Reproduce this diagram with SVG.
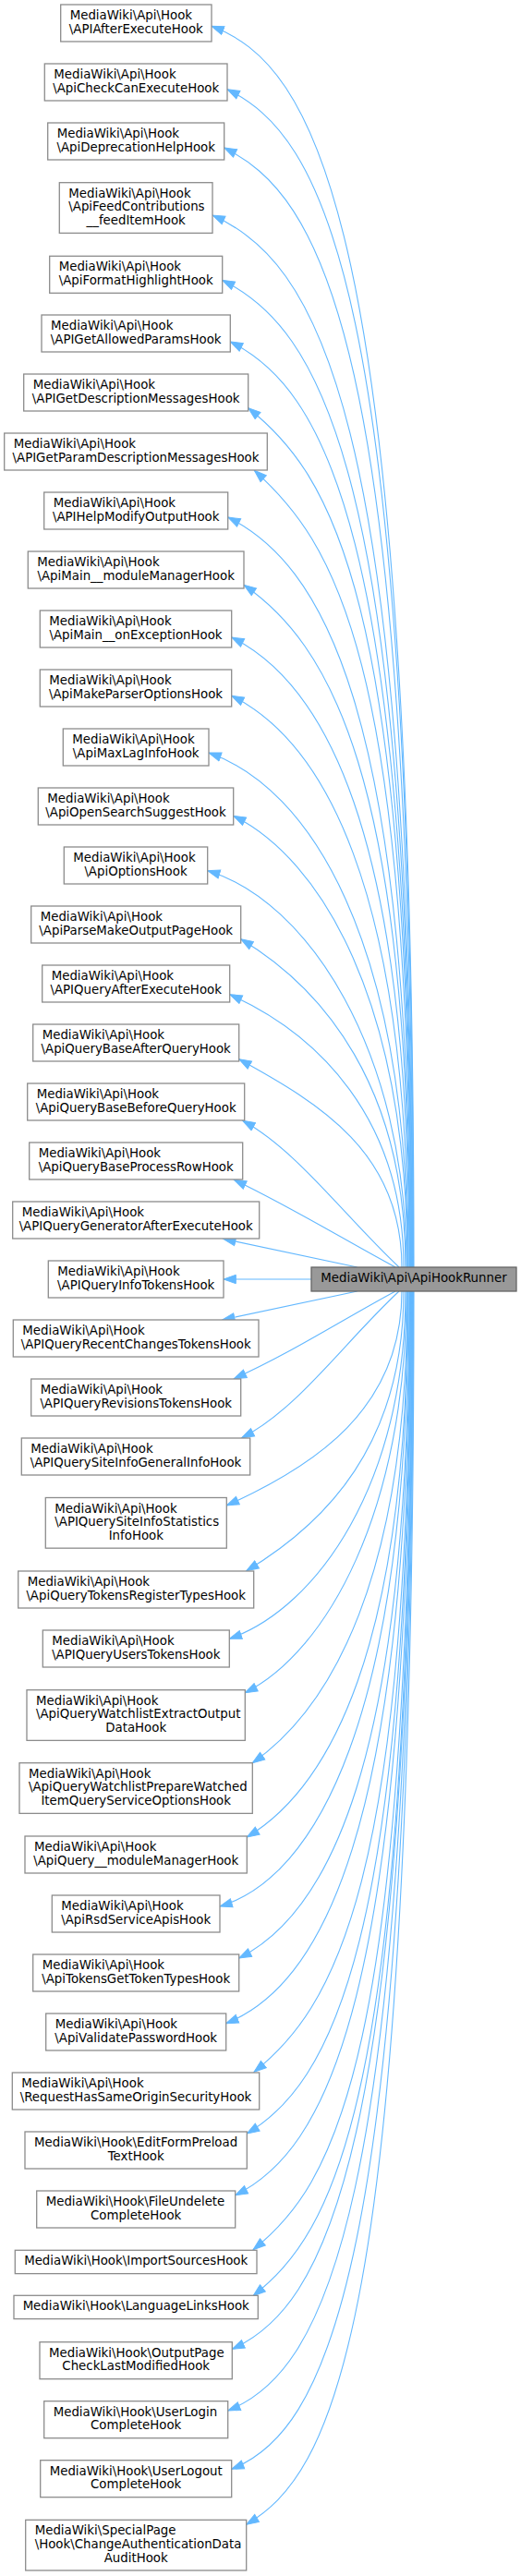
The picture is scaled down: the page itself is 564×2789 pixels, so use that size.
<svg xmlns="http://www.w3.org/2000/svg" width="564" height="2789" viewBox="0 0 564 2789">
<style>
rect{fill:#fff;stroke:#8c8c8c;stroke-width:1.3}
#center rect{fill:#999;stroke:#666}
text{font-family:"DejaVu Sans",sans-serif;font-size:13.33px;fill:#000}
.c{text-anchor:middle}
#edges path{fill:none;stroke:#63b8ff;stroke-width:1.1;marker-start:url(#a)}
</style>
<defs>
<marker id="a" markerUnits="userSpaceOnUse" markerWidth="16" markerHeight="12" viewBox="-14 -6 16 12" refX="0" refY="0" orient="auto-start-reverse"><path d="M0,0 L-13.3,-4.67 L-13.3,4.67 Z" fill="#63b8ff" stroke="#63b8ff" stroke-width="1"/></marker>
</defs>
<rect width="564" height="2789" style="fill:#fff;stroke:none"/>
<g id="edges">
<path d="M229,28.3 C338.5,69.9 448,228.3 448,1372"/>
<path d="M246,96.7 C346.75,147.1 447.5,296.7 447.5,1372"/>
<path d="M242.7,160 C344.9,211.1 447,360 447,1372"/>
<path d="M230,233 C338.3,281.7 446.5,433 446.5,1372"/>
<path d="M240.7,303.3 C343.4,354.6 446,503.3 446,1372"/>
<path d="M249.3,370 C347.4,419.1 445.5,570 445.5,1372"/>
<path d="M268.7,441.7 C356.9,512.3 445,641.7 445,1372"/>
<path d="M275.3,509.3 C359.9,585.4 444.5,709.3 444.5,1372"/>
<path d="M246.7,560 C345.4,609.4 444,760 444,1372"/>
<path d="M264,633.3 C353.8,696.2 443.5,833.3 443.5,1372"/>
<path d="M250.7,690 C346.9,738.1 443,890 443,1372"/>
<path d="M250.7,753.3 C346.4,801.2 442,953.3 442,1372"/>
<path d="M226,815 C333.8,852.7 441.5,1015 441.5,1372"/>
<path d="M252.7,883.3 C346.9,930.4 441,1083.3 441,1372"/>
<path d="M224.7,942.7 C332.4,975 440,1135.9 440,1372"/>
<path d="M260.7,1016.7 C349.9,1070.2 439,1176.6 439,1372"/>
<path d="M248.7,1076.7 C342.9,1119.1 437,1209.6 437,1372"/>
<path d="M258.7,1146.7 C346.9,1195.2 435,1248.1 435,1372"/>
<path d="M262.7,1213.3 C322,1245.9 372.7,1316.5 432,1372"/>
<path d="M253.3,1277.3 C314.4,1306.6 366.9,1338.9 428,1372"/>
<path d="M241.7,1341.3 L386.7,1372"/>
<path d="M242,1385 L337,1385"/>
<path d="M240.7,1429 L386.7,1398"/>
<path d="M253.3,1492.7 C314.4,1465.2 366.9,1431.1 428,1398"/>
<path d="M261.7,1556.7 C321.3,1526.9 372.4,1453.5 432,1398"/>
<path d="M245.3,1630 C340.2,1587.3 435,1525.6 435,1398"/>
<path d="M266.7,1700.7 C351.9,1649.6 437,1564.5 437,1398"/>
<path d="M248.3,1774.3 C343.7,1740.9 439,1605 439,1398"/>
<path d="M265.3,1832.7 C352.7,1789 440,1637.1 440,1398"/>
<path d="M273.3,1908.7 C357.2,1850 441,1708.7 441,1398"/>
<path d="M267.3,1989 C354.4,1936.7 441.5,1789 441.5,1398"/>
<path d="M238,2064 C340,2033.4 442,1864 442,1398"/>
<path d="M258.7,2120 C350.9,2073.9 443,1920 443,1398"/>
<path d="M244.7,2190.7 C344.1,2150.9 443.5,1990.7 443.5,1398"/>
<path d="M275,2243.3 C359.5,2175.7 444,2043.3 444,1398"/>
<path d="M267.3,2310 C355.9,2256.8 444.5,2110 444.5,1398"/>
<path d="M254.7,2376.7 C349.9,2329.1 445,2176.7 445,1398"/>
<path d="M274,2435.7 C359.8,2367.1 445.5,2235.7 445.5,1398"/>
<path d="M274,2485.7 C360,2416.9 446,2285.7 446,1398"/>
<path d="M251.3,2543.3 C348.9,2499.4 446.5,2343.3 446.5,1398"/>
<path d="M246.7,2610 C346.9,2570 447,2410 447,1398"/>
<path d="M250.7,2673.3 C349.1,2633.9 447.5,2473.3 447.5,1398"/>
<path d="M266.7,2733.3 C357.4,2678.9 448,2533.3 448,1398"/>
</g>
<g id="center"><rect x="337" y="1372" width="222" height="26"/><text class="c" x="448" y="1388">MediaWiki\Api\ApiHookRunner</text></g>
<g id="n1"><rect x="65.7" y="5" width="163.3" height="40"/><text x="75.7" y="21">MediaWiki\Api\Hook</text><text class="c" x="147.3" y="35.7">\APIAfterExecuteHook</text></g>
<g id="n2"><rect x="48.3" y="69" width="197.7" height="40"/><text x="58.3" y="85">MediaWiki\Api\Hook</text><text class="c" x="147.2" y="99.7">\ApiCheckCanExecuteHook</text></g>
<g id="n3"><rect x="51.7" y="133" width="191" height="40"/><text x="61.7" y="149">MediaWiki\Api\Hook</text><text class="c" x="147.2" y="163.7">\ApiDeprecationHelpHook</text></g>
<g id="n4"><rect x="64.3" y="197.7" width="165.7" height="54.67"/><text x="74.3" y="213.7">MediaWiki\Api\Hook</text><text x="74.3" y="228.4">\ApiFeedContributions</text><text class="c" x="147.2" y="243">__feedItemHook</text></g>
<g id="n5"><rect x="53.7" y="277.3" width="187" height="40"/><text x="63.7" y="293.3">MediaWiki\Api\Hook</text><text class="c" x="147.2" y="308">\ApiFormatHighlightHook</text></g>
<g id="n6"><rect x="45" y="341" width="204.3" height="40"/><text x="55" y="357">MediaWiki\Api\Hook</text><text class="c" x="147.2" y="371.7">\APIGetAllowedParamsHook</text></g>
<g id="n7"><rect x="25.7" y="405" width="243" height="40"/><text x="35.7" y="421">MediaWiki\Api\Hook</text><text class="c" x="147.2" y="435.7">\APIGetDescriptionMessagesHook</text></g>
<g id="n8"><rect x="4.7" y="469" width="284.6" height="40"/><text x="14.7" y="485">MediaWiki\Api\Hook</text><text class="c" x="147" y="499.7">\APIGetParamDescriptionMessagesHook</text></g>
<g id="n9"><rect x="47.7" y="533" width="199" height="40"/><text x="57.7" y="549">MediaWiki\Api\Hook</text><text class="c" x="147.2" y="563.7">\APIHelpModifyOutputHook</text></g>
<g id="n10"><rect x="30.3" y="597" width="233.7" height="40"/><text x="40.3" y="613">MediaWiki\Api\Hook</text><text class="c" x="147.2" y="627.7">\ApiMain__moduleManagerHook</text></g>
<g id="n11"><rect x="43.3" y="661" width="207.4" height="40"/><text x="53.3" y="677">MediaWiki\Api\Hook</text><text class="c" x="147" y="691.7">\ApiMain__onExceptionHook</text></g>
<g id="n12"><rect x="43.3" y="725" width="207.4" height="40"/><text x="53.3" y="741">MediaWiki\Api\Hook</text><text class="c" x="147" y="755.7">\ApiMakeParserOptionsHook</text></g>
<g id="n13"><rect x="68.3" y="789" width="157.7" height="40"/><text x="78.3" y="805">MediaWiki\Api\Hook</text><text class="c" x="147.2" y="819.7">\ApiMaxLagInfoHook</text></g>
<g id="n14"><rect x="41.3" y="853" width="211.4" height="40"/><text x="51.3" y="869">MediaWiki\Api\Hook</text><text class="c" x="147" y="883.7">\ApiOpenSearchSuggestHook</text></g>
<g id="n15"><rect x="69.3" y="917" width="155.4" height="40"/><text x="79.3" y="933">MediaWiki\Api\Hook</text><text class="c" x="147" y="947.7">\ApiOptionsHook</text></g>
<g id="n16"><rect x="33.7" y="981" width="227" height="40"/><text x="43.7" y="997">MediaWiki\Api\Hook</text><text class="c" x="147.2" y="1011.7">\ApiParseMakeOutputPageHook</text></g>
<g id="n17"><rect x="45.7" y="1045" width="203" height="40"/><text x="55.7" y="1061">MediaWiki\Api\Hook</text><text class="c" x="147.2" y="1075.7">\APIQueryAfterExecuteHook</text></g>
<g id="n18"><rect x="35.7" y="1109" width="223" height="40"/><text x="45.7" y="1125">MediaWiki\Api\Hook</text><text class="c" x="147.2" y="1139.7">\ApiQueryBaseAfterQueryHook</text></g>
<g id="n19"><rect x="29.7" y="1173" width="235" height="40"/><text x="39.7" y="1189">MediaWiki\Api\Hook</text><text class="c" x="147.2" y="1203.7">\ApiQueryBaseBeforeQueryHook</text></g>
<g id="n20"><rect x="31.7" y="1237" width="231" height="40"/><text x="41.7" y="1253">MediaWiki\Api\Hook</text><text class="c" x="147.2" y="1267.7">\ApiQueryBaseProcessRowHook</text></g>
<g id="n21"><rect x="13.7" y="1301" width="267" height="40"/><text x="23.7" y="1317">MediaWiki\Api\Hook</text><text class="c" x="147.2" y="1331.7">\APIQueryGeneratorAfterExecuteHook</text></g>
<g id="n22"><rect x="52.3" y="1365" width="189.7" height="40"/><text x="62.3" y="1381">MediaWiki\Api\Hook</text><text class="c" x="147.2" y="1395.7">\APIQueryInfoTokensHook</text></g>
<g id="n23"><rect x="14.3" y="1429" width="265.7" height="40"/><text x="24.3" y="1445">MediaWiki\Api\Hook</text><text class="c" x="147.2" y="1459.7">\APIQueryRecentChangesTokensHook</text></g>
<g id="n24"><rect x="33.7" y="1493" width="227" height="40"/><text x="43.7" y="1509">MediaWiki\Api\Hook</text><text class="c" x="147.2" y="1523.7">\APIQueryRevisionsTokensHook</text></g>
<g id="n25"><rect x="23.3" y="1557" width="247.4" height="40"/><text x="33.3" y="1573">MediaWiki\Api\Hook</text><text class="c" x="147" y="1587.7">\APIQuerySiteInfoGeneralInfoHook</text></g>
<g id="n26"><rect x="49.3" y="1621.5" width="196" height="54.67"/><text x="59.3" y="1637.5">MediaWiki\Api\Hook</text><text x="59.3" y="1652.2">\APIQuerySiteInfoStatistics</text><text class="c" x="147.3" y="1666.8">InfoHook</text></g>
<g id="n27"><rect x="19.7" y="1701" width="255" height="40"/><text x="29.7" y="1717">MediaWiki\Api\Hook</text><text class="c" x="147.2" y="1731.7">\ApiQueryTokensRegisterTypesHook</text></g>
<g id="n28"><rect x="46.3" y="1765" width="202" height="40"/><text x="56.3" y="1781">MediaWiki\Api\Hook</text><text class="c" x="147.3" y="1795.7">\APIQueryUsersTokensHook</text></g>
<g id="n29"><rect x="29" y="1829.7" width="236.3" height="54.67"/><text x="39" y="1845.7">MediaWiki\Api\Hook</text><text x="39" y="1860.4">\ApiQueryWatchlistExtractOutput</text><text class="c" x="147.2" y="1875">DataHook</text></g>
<g id="n30"><rect x="21" y="1908.7" width="252.3" height="54.67"/><text x="31" y="1924.7">MediaWiki\Api\Hook</text><text x="31" y="1939.4">\ApiQueryWatchlistPrepareWatched</text><text class="c" x="147.2" y="1954">ItemQueryServiceOptionsHook</text></g>
<g id="n31"><rect x="27" y="1988" width="240.3" height="40"/><text x="37" y="2004">MediaWiki\Api\Hook</text><text class="c" x="147.2" y="2018.7">\ApiQuery__moduleManagerHook</text></g>
<g id="n32"><rect x="56.3" y="2052" width="181.7" height="40"/><text x="66.3" y="2068">MediaWiki\Api\Hook</text><text class="c" x="147.2" y="2082.7">\ApiRsdServiceApisHook</text></g>
<g id="n33"><rect x="35.7" y="2116" width="223" height="40"/><text x="45.7" y="2132">MediaWiki\Api\Hook</text><text class="c" x="147.2" y="2146.7">\ApiTokensGetTokenTypesHook</text></g>
<g id="n34"><rect x="49.7" y="2180" width="195" height="40"/><text x="59.7" y="2196">MediaWiki\Api\Hook</text><text class="c" x="147.2" y="2210.7">\ApiValidatePasswordHook</text></g>
<g id="n35"><rect x="13.3" y="2244" width="267.4" height="40"/><text x="23.3" y="2260">MediaWiki\Api\Hook</text><text class="c" x="147" y="2274.7">\RequestHasSameOriginSecurityHook</text></g>
<g id="n36"><rect x="27" y="2308" width="240.3" height="40"/><text x="37" y="2324">MediaWiki\Hook\EditFormPreload</text><text class="c" x="147.2" y="2338.7">TextHook</text></g>
<g id="n37"><rect x="39.7" y="2372" width="215" height="40"/><text x="49.7" y="2388">MediaWiki\Hook\FileUndelete</text><text class="c" x="147.2" y="2402.7">CompleteHook</text></g>
<g id="n38"><rect x="16.3" y="2436.3" width="261.7" height="25.33"/><text class="c" x="147.2" y="2452.3">MediaWiki\Hook\ImportSourcesHook</text></g>
<g id="n39"><rect x="15" y="2485.3" width="264.3" height="25.33"/><text class="c" x="147.2" y="2501.3">MediaWiki\Hook\LanguageLinksHook</text></g>
<g id="n40"><rect x="43" y="2535.7" width="208.3" height="40"/><text x="53" y="2551.7">MediaWiki\Hook\OutputPage</text><text class="c" x="147.2" y="2566.4">CheckLastModifiedHook</text></g>
<g id="n41"><rect x="47.7" y="2599.7" width="199" height="40"/><text x="57.7" y="2615.7">MediaWiki\Hook\UserLogin</text><text class="c" x="147.2" y="2630.4">CompleteHook</text></g>
<g id="n42"><rect x="43.7" y="2663.7" width="207" height="40"/><text x="53.7" y="2679.7">MediaWiki\Hook\UserLogout</text><text class="c" x="147.2" y="2694.4">CompleteHook</text></g>
<g id="n43"><rect x="27.7" y="2728.3" width="239" height="54.67"/><text x="37.7" y="2744.3">MediaWiki\SpecialPage</text><text x="37.7" y="2759">\Hook\ChangeAuthenticationData</text><text class="c" x="147.2" y="2773.6">AuditHook</text></g>
</svg>
